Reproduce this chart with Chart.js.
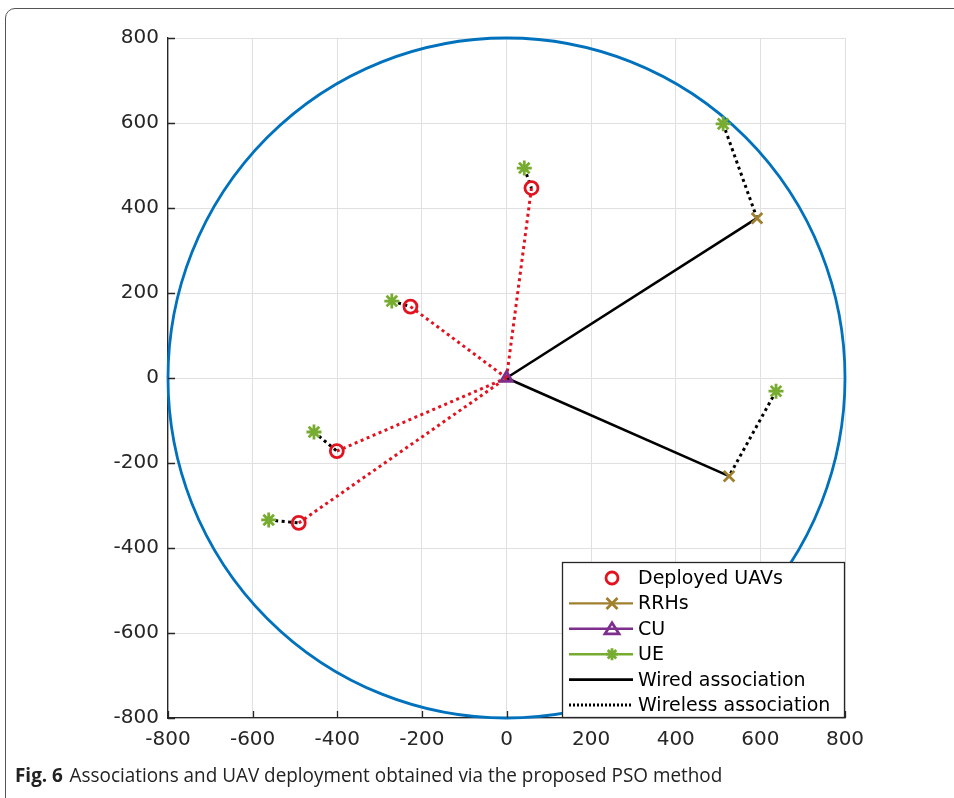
<!DOCTYPE html>
<html>
<head>
<meta charset="utf-8">
<script src="https://cdn.jsdelivr.net/npm/chart.js@4/dist/chart.umd.min.js"></script>
<style>
  html, body { margin: 0; padding: 0; background: #fff; }
  #wrap { position: relative; width: 954px; height: 798px; overflow: hidden; }
  #frame { position: absolute; left: 5px; top: 8px; width: 1000px; height: 1000px;
           border: 1px solid #555; border-radius: 10px; box-sizing: border-box; }
  #box { position: absolute; left: 0; top: 0; width: 954px; height: 798px; }
  #caption { position: absolute; left: 15px; top: 761px; font-family: "Open Sans", sans-serif;
             font-size: 20px; color: #222; white-space: nowrap; transform: scaleX(0.945); transform-origin: left top; }
  #caption b { font-weight: 700; margin-right: 7px; }
</style>
</head>
<body>
<div id="wrap">
  <div id="frame"></div>
  <div id="box"><canvas id="myChart"></canvas></div>
  <div id="caption"><b>Fig. 6</b>Associations and UAV deployment obtained via the proposed PSO method</div>
</div>
<script>
// positions (m)
var uavX = [59, -227, -401, -491];
var uavY = [447, 168, -172, -341];
var rrhX = [592, 526];
var rrhY = [376, -231];
var cuX = [0];
var cuY = [0];
var ueX = [42, -271, -455, -562, 512, 637];
var ueY = [494, 181, -127, -334, 598, -31];
// which node serves each UE: 'uav' or 'rrh' + index
var ueServer = ['uav', 'uav', 'uav', 'uav', 'rrh', 'rrh'];
var ueServerIdx = [0, 1, 2, 3, 0, 1];
var circleRadius = 800;
var axisTicks = [-800, -600, -400, -200, 0, 200, 400, 600, 800];

var RED = '#e3121f', OLIVE = '#a0802e', PURPLE = '#7e2f8e', GREEN = '#77ac30', BLUE = '#0072bd';
var FONT = "'DejaVu Sans', Verdana, sans-serif";

function pts(xs, ys) {
    return xs.map(function (x, i) { return {x: x, y: ys[i]}; });
}

var datasets = [
    {label: 'Deployed UAVs', data: pts(uavX, uavY), pointStyle: 'circle', pointRadius: 6.5,
        borderColor: RED, backgroundColor: 'rgba(0,0,0,0)', pointBorderWidth: 2.8, showLine: false},
    {label: 'RRHs', data: pts(rrhX, rrhY), pointStyle: 'crossRot', pointRadius: 7.5,
        borderColor: OLIVE, backgroundColor: OLIVE, pointBorderWidth: 2.8, showLine: false},
    {label: 'CU', data: pts(cuX, cuY), pointStyle: 'triangle', pointRadius: 6.5,
        borderColor: PURPLE, backgroundColor: 'rgba(0,0,0,0)', pointBorderWidth: 2.8, showLine: false},
    {label: 'UE', data: pts(ueX, ueY), pointStyle: 'star', pointRadius: 7.5,
        borderColor: GREEN, backgroundColor: GREEN, pointBorderWidth: 2.8, showLine: false}
];

function link(a, b, color, dash, w) {
    datasets.push({data: [a, b], showLine: true, borderColor: color, borderWidth: w,
        borderDash: dash, pointRadius: 0, fill: false});
}
// UE -> serving node (black dotted)
ueX.forEach(function (x, i) {
    var k = ueServerIdx[i];
    var to = ueServer[i] === 'uav' ? {x: uavX[k], y: uavY[k]} : {x: rrhX[k], y: rrhY[k]};
    link({x: x, y: ueY[i]}, to, '#000', [3, 3.5], 3);
});
// UAV -> CU (red dotted)
uavX.forEach(function (x, i) {
    link({x: x, y: uavY[i]}, {x: cuX[0], y: cuY[0]}, RED, [3, 3.5], 3);
});
// CU -> RRH (wired)
rrhX.forEach(function (x, i) {
    link({x: cuX[0], y: cuY[0]}, {x: x, y: rrhY[i]}, '#000', [], 2.6);
});

var circlePlugin = {
    id: 'circle',
    beforeDatasetsDraw: function (chart) {
        var xs = chart.scales.x, ys = chart.scales.y, ctx = chart.ctx;
        var cx = xs.getPixelForValue(0), cy = ys.getPixelForValue(0);
        var rx = xs.getPixelForValue(circleRadius) - cx;
        var ry = cy - ys.getPixelForValue(circleRadius);
        ctx.save();
        ctx.strokeStyle = BLUE;
        ctx.lineWidth = 2.8;
        ctx.beginPath();
        ctx.ellipse(cx, cy, rx, ry, 0, 0, Math.PI * 2);
        ctx.stroke();
        ctx.restore();
    },
    afterDatasetsDraw: function (chart) {
        // MATLAB-style inward tick marks
        var xs = chart.scales.x, ys = chart.scales.y, ctx = chart.ctx, ca = chart.chartArea;
        ctx.save();
        ctx.strokeStyle = '#262626';
        ctx.lineWidth = 1.3;
        ctx.beginPath();
        axisTicks.forEach(function (v) {
            var px = Math.round(xs.getPixelForValue(v)) + 0.5;
            ctx.moveTo(px, ca.bottom); ctx.lineTo(px, ca.bottom - 7);
            var py = Math.round(ys.getPixelForValue(v)) + 0.5;
            ctx.moveTo(ca.left, py); ctx.lineTo(ca.left + 7, py);
        });
        ctx.stroke();
        ctx.restore();
    }
};

function drawMarker(ctx, style, x, y, color) {
    ctx.save();
    ctx.strokeStyle = color;
    ctx.lineWidth = 2.8;
    ctx.beginPath();
    if (style === 'circle') {
        ctx.arc(x, y, 6, 0, Math.PI * 2);
    } else if (style === 'crossRot') {
        ctx.moveTo(x - 5.5, y - 5.5); ctx.lineTo(x + 5.5, y + 5.5);
        ctx.moveTo(x + 5.5, y - 5.5); ctx.lineTo(x - 5.5, y + 5.5);
    } else if (style === 'triangle') {
        ctx.moveTo(x, y - 6); ctx.lineTo(x + 7, y + 5); ctx.lineTo(x - 7, y + 5); ctx.closePath();
    } else if (style === 'star') {
        for (var a = 0; a < 4; a++) {
            var t = a * Math.PI / 4;
            ctx.moveTo(x - 6 * Math.cos(t), y - 6 * Math.sin(t));
            ctx.lineTo(x + 6 * Math.cos(t), y + 6 * Math.sin(t));
        }
    }
    ctx.stroke();
    ctx.restore();
}

var legendItems = [
    {text: 'Deployed UAVs', marker: 'circle', color: RED, line: null},
    {text: 'RRHs', marker: 'crossRot', color: OLIVE, line: []},
    {text: 'CU', marker: 'triangle', color: PURPLE, line: []},
    {text: 'UE', marker: 'star', color: GREEN, line: []},
    {text: 'Wired association', marker: null, color: '#000', line: []},
    {text: 'Wireless association', marker: null, color: '#000', line: [2, 2]}
];

var legendPlugin = {
    id: 'boxLegend',
    afterDraw: function (chart) {
        var ca = chart.chartArea, ctx = chart.ctx;
        var w = 283, h = 156;
        var x0 = ca.right - w, y0 = ca.bottom - h;
        ctx.save();
        ctx.fillStyle = '#fff';
        ctx.fillRect(x0, y0, w, h);
        ctx.strokeStyle = '#262626';
        ctx.lineWidth = 1.3;
        ctx.strokeRect(x0 + 0.5, y0 + 0.5, w - 1, h - 1);
        ctx.font = '19px ' + FONT;
        ctx.fillStyle = '#000';
        ctx.textBaseline = 'middle';
        legendItems.forEach(function (it, i) {
            var y = y0 + 16 + i * 25.4;
            if (it.line) {
                ctx.save();
                ctx.strokeStyle = it.color;
                ctx.lineWidth = it.marker ? 2.4 : 2.8;
                ctx.setLineDash(it.line);
                ctx.beginPath();
                ctx.moveTo(x0 + 7, y);
                ctx.lineTo(x0 + 71, y);
                ctx.stroke();
                ctx.restore();
            }
            if (it.marker) drawMarker(ctx, it.marker, x0 + 50, y, it.color);
            ctx.fillText(it.text, x0 + 76, y + 1);
        });
        ctx.restore();
    }
};

var tickFont = {family: FONT, size: 20};
var grid = {color: '#e0e0e0', lineWidth: 1, drawTicks: false};

var ctx = document.getElementById('myChart').getContext('2d');
var chart = new Chart(ctx, {
    type: 'scatter',
    data: {datasets: datasets},
    options: {
        responsive: true,
        maintainAspectRatio: false,
        animation: false,
        layout: {padding: {left: 0, top: 38, right: 109, bottom: 40}},
        plugins: {legend: {display: false}, tooltip: {enabled: false}},
        scales: {
            x: {
                type: 'linear', min: -800, max: 800,
                afterBuildTicks: function (s) { s.ticks = axisTicks.map(function (v) { return {value: v}; }); },
                afterFit: function (s) { s.height = 40; },
                grid: grid,
                border: {color: '#262626', width: 1.3},
                ticks: {font: tickFont, color: '#262626', padding: 10, maxRotation: 0}
            },
            y: {
                type: 'linear', min: -800, max: 800,
                afterBuildTicks: function (s) { s.ticks = axisTicks.map(function (v) { return {value: v}; }); },
                afterFit: function (s) { s.width = 168; },
                grid: grid,
                border: {color: '#262626', width: 1.3},
                ticks: {font: tickFont, color: '#262626', padding: 9}
            }
        }
    },
    plugins: [circlePlugin, legendPlugin]
});
</script>
</body>
</html>
